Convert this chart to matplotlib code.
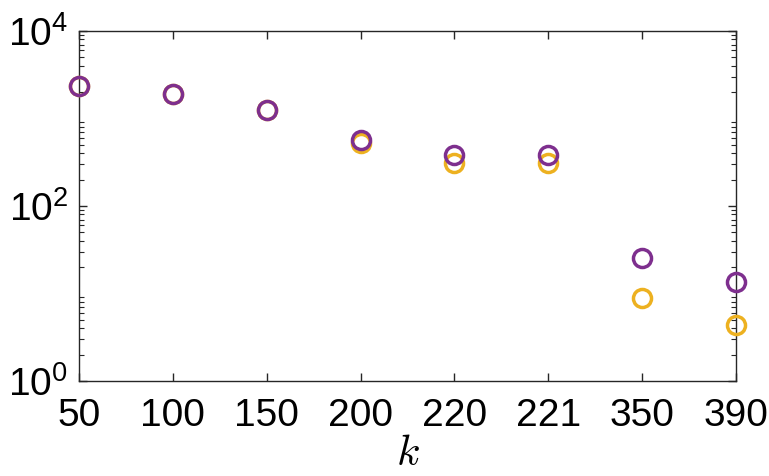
import matplotlib
matplotlib.use("Agg")
import matplotlib.pyplot as plt
import numpy as np
from matplotlib.ticker import LogLocator, NullFormatter

plt.rcParams['font.family'] = ['Liberation Sans', 'DejaVu Sans']
plt.rcParams['mathtext.fontset'] = 'cm'

k_labels = ['50', '100', '150', '200', '220', '221', '350', '390']
orange_vals = [2350, 1905, 1250, 525, 310, 310, 8.8, 4.4]
purple_vals = [2350, 1905, 1250, 568, 383, 383, 25.7, 13.6]

fig = plt.figure(figsize=(7.69, 4.76), dpi=100)
ax = fig.add_axes([0.1027, 0.1996, 0.8543, 0.7353])

x = np.arange(len(k_labels))
ax.plot(x, orange_vals, linestyle='none', marker='o', markersize=13,
        markerfacecolor='none', markeredgecolor='#EDB120', markeredgewidth=2.5,
        clip_on=False, zorder=3)
ax.plot(x, purple_vals, linestyle='none', marker='o', markersize=13,
        markerfacecolor='none', markeredgecolor='#7E2F8E', markeredgewidth=2.5,
        clip_on=False, zorder=4)

ax.set_yscale('log')
ax.set_ylim(1, 1e4)
ax.set_xlim(0, len(k_labels) - 1)
ax.set_xticks(x)
ax.set_xticklabels(k_labels)
ax.set_yticks([1, 1e2, 1e4])
ax.yaxis.set_minor_locator(LogLocator(base=10, subs=np.arange(2, 10), numticks=20))
ax.yaxis.set_minor_formatter(NullFormatter())

for s in ax.spines.values():
    s.set_linewidth(1.0)
    s.set_color('#262626')

ax.tick_params(axis='both', which='major', direction='in', length=6, width=1,
               top=True, right=True, labelsize=28, colors='#262626')
ax.tick_params(axis='x', which='major', pad=12)
ax.tick_params(axis='y', which='major', pad=8)
ax.tick_params(axis='y', which='minor', direction='in', length=3.5, width=0.8,
               right=True, colors='#262626')
ax.tick_params(axis='x', which='minor', bottom=False, top=False)
for lbl in ax.get_xticklabels() + ax.get_yticklabels():
    lbl.set_color('#000000')

ax.set_xlabel('$k$', fontsize=31, labelpad=0)

fig.savefig('out.png', dpi=100)
